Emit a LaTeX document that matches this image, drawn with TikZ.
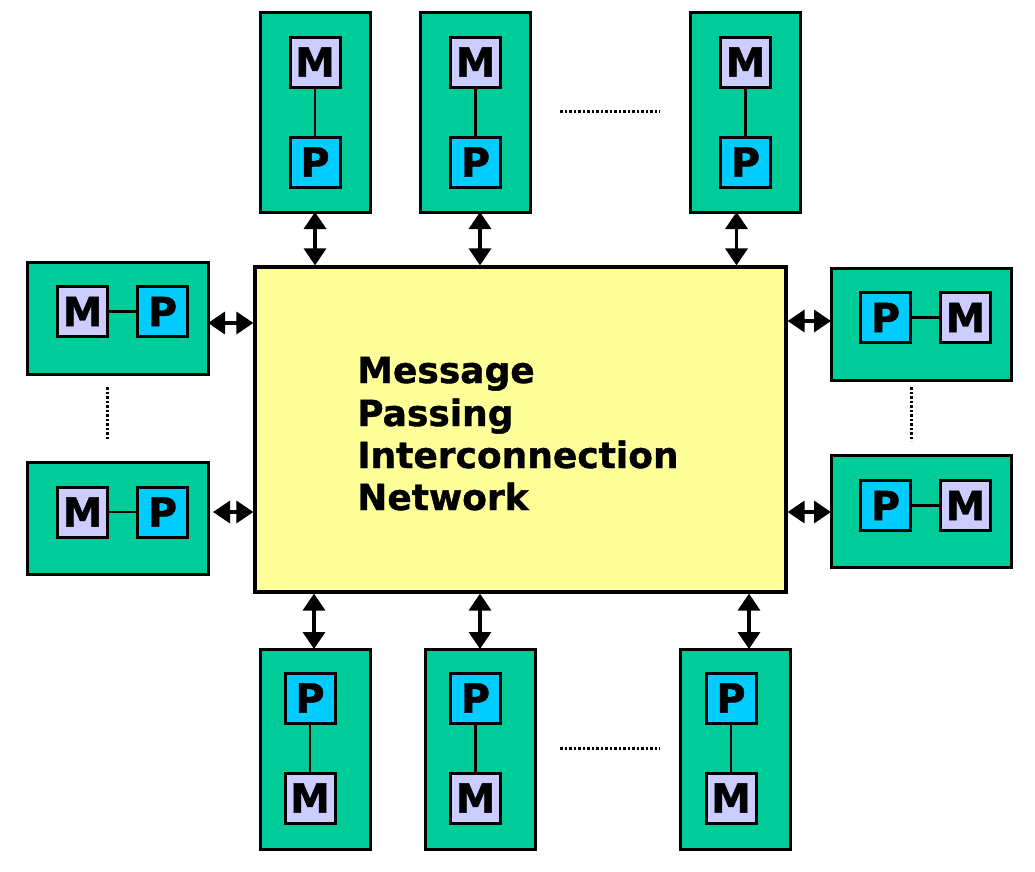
\documentclass[tikz,border=0pt]{standalone}
\usepackage{fontspec}
\setmainfont{DejaVu Sans}
\newfontfamily\heavyfont{DejaVu Sans Bold}[FakeBold=1.1]
\usetikzlibrary{arrows.meta}
\definecolor{modgreen}{HTML}{00CC99}
\definecolor{memcol}{HTML}{CCCCFF}
\definecolor{proccol}{HTML}{00CCFF}
\definecolor{netcol}{HTML}{FFFF99}
\begin{document}
\begin{tikzpicture}[x=1pt,y=-1pt,
  modv/.style={draw=black,line width=3pt,fill=modgreen,minimum width=110pt,minimum height=200pt,inner sep=0pt},
  modh/.style={draw=black,line width=3pt,fill=modgreen,minimum width=181pt,minimum height=112pt,inner sep=0pt},
  unit/.style={draw=black,line width=3pt,minimum width=50pt,minimum height=50pt,inner sep=0pt,font=\fontsize{40}{44}\heavyfont},
  mem/.style={unit,fill=memcol},
  proc/.style={unit,fill=proccol},
  netbox/.style={draw=black,line width=3.2pt,fill=netcol,minimum width=531pt,minimum height=325pt,inner sep=0pt},
  biarrow/.style={line width=3.5pt,{Triangle[length=17pt,width=22pt]}-{Triangle[length=17pt,width=22pt]}},
  link/.style={line width=2.5pt},
  dots/.style={line width=3pt,dash pattern=on 2.5pt off 2pt},
  lbl/.style={anchor=base west,inner sep=0pt,font=\fontsize{36}{42}\heavyfont}
]
\useasboundingbox[fill=white] (0,0) rectangle (1035,871);

% central network
\node[netbox] (net) at (520.5,429.5) {};
\node[lbl] (tx1) at (357,383) {Message};
\node[lbl] (tx2) at (357,426) {Passing};
\node[lbl] (tx3) at (357,468) {Interconnection};
\node[lbl] (tx4) at (357,510) {Network};

% top modules
\node[modv] (t1) at (315,112) {};
\node[mem] (t1m) at (315,62) {M};
\node[proc] (t1p) at (315,162) {P};
\node[modv] (t2) at (475.5,112) {};
\node[mem] (t2m) at (475.5,62) {M};
\node[proc] (t2p) at (475.5,162) {P};
\node[modv] (t3) at (745.5,112) {};
\node[mem] (t3m) at (745.5,62) {M};
\node[proc] (t3p) at (745.5,162) {P};
\foreach \i in {1,2,3} \draw[link] (t\i m) -- (t\i p);

% bottom modules
\node[modv] (b1) at (315,749) {};
\node[proc] (b1p) at (310,698) {P};
\node[mem] (b1m) at (310,798) {M};
\node[modv] (b2) at (480,749) {};
\node[proc] (b2p) at (475.5,698) {P};
\node[mem] (b2m) at (475.5,798) {M};
\node[modv] (b3) at (735.5,749) {};
\node[proc] (b3p) at (731,698) {P};
\node[mem] (b3m) at (731,798) {M};
\foreach \i in {1,2,3} \draw[link] (b\i p) -- (b\i m);

% left modules
\node[modh] (l1) at (117.5,318) {};
\node[mem] (l1m) at (82.5,311.5) {M};
\node[proc] (l1p) at (162.5,311.5) {P};
\node[modh] (l2) at (117.5,518) {};
\node[mem] (l2m) at (82.5,512) {M};
\node[proc] (l2p) at (162.5,512) {P};
\foreach \i in {1,2} \draw[link] (l\i m) -- (l\i p);

% right modules
\node[modh,minimum width=180pt] (r1) at (921,324) {};
\node[proc] (r1p) at (885.5,317.5) {P};
\node[mem] (r1m) at (965.5,317.5) {M};
\node[modh,minimum width=180pt] (r2) at (921,511.5) {};
\node[proc] (r2p) at (885.5,505.5) {P};
\node[mem] (r2m) at (965.5,505.5) {M};
\foreach \i in {1,2} \draw[link] (r\i p) -- (r\i m);

% connector coordinates
\coordinate (at1) at (315,212);
\coordinate (at2) at (480,212);
\coordinate (at3) at (736.5,212);
\coordinate (ab1) at (314,649);
\coordinate (ab2) at (480,649);
\coordinate (ab3) at (749,649);
\coordinate (al1) at (208,323);
\coordinate (al2) at (213,512);
\coordinate (ar1) at (831,321);
\coordinate (ar2) at (831,512);

\foreach \c in {at1,at2,at3} \draw[biarrow] (\c) -- (\c |- net.north);
\foreach \c in {ab1,ab2,ab3} \draw[biarrow] (\c |- net.south) -- (\c);
\foreach \c in {al1,al2} \draw[biarrow] (\c) -- (\c -| net.west);
\foreach \c in {ar1,ar2} \draw[biarrow] (\c -| net.east) -- (\c);

% ellipsis dots
\coordinate (dt1) at (560,111);
\coordinate (dt2) at (660,111);
\coordinate (db1) at (560,748);
\coordinate (db2) at (660,748);
\coordinate (dl1) at (107,387);
\coordinate (dl2) at (107,440);
\coordinate (dr1) at (911,387);
\coordinate (dr2) at (911,441);
\draw[dots] (dt1) -- (dt2);
\draw[dots] (db1) -- (db2);
\draw[dots] (dl1) -- (dl2);
\draw[dots] (dr1) -- (dr2);
\end{tikzpicture}
\end{document}
